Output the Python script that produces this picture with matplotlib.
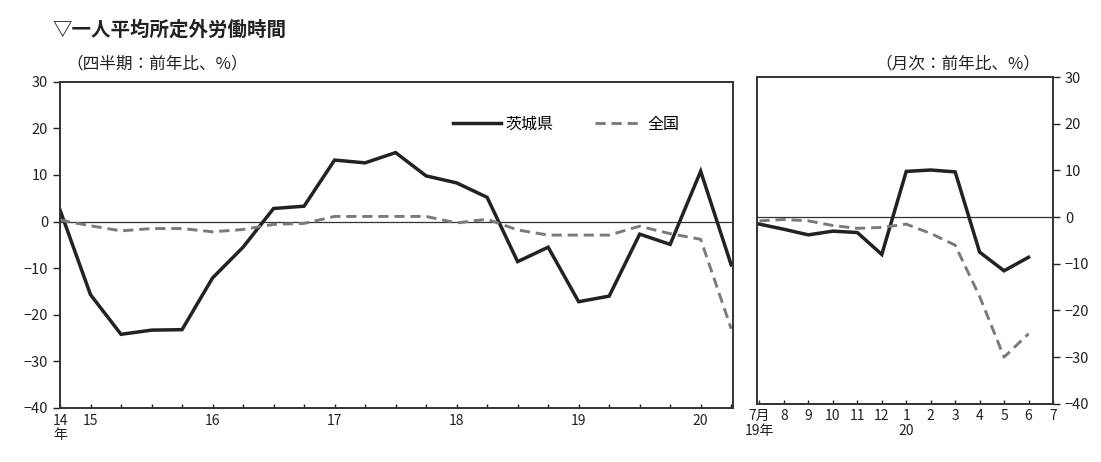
import matplotlib.pyplot as plt

plt.rcParams['font.family'] = ['Noto Sans CJK JP', 'DejaVu Sans']

# 四半期（2014年10-12月期〜2020年4-6月期）前年比、%
ibaraki_q = [2.5, -15.7, -24.2, -23.3, -23.2, -12.1, -5.5, 2.8, 3.3, 13.2, 12.6, 14.8,
             9.8, 8.3, 5.2, -8.6, -5.5, -17.2, -16.0, -2.7, -4.9, 10.8, -9.3]
national_q = [0.3, -0.9, -2.0, -1.5, -1.5, -2.2, -1.7, -0.6, -0.4, 1.1, 1.1, 1.1,
              1.1, -0.3, 0.5, -1.8, -2.9, -2.9, -2.9, -1.0, -2.6, -3.8, -23.0]
q_tick_pos = [0, 1, 5, 9, 13, 17, 21]
q_tick_labels = ['14\n年', '15', '16', '17', '18', '19', '20']

# 月次（2019年7月〜2020年6月）前年比、%
ibaraki_m = [-1.5, -2.6, -3.8, -3.0, -3.3, -8.0, 9.8, 10.1, 9.7, -7.5, -11.5, -8.6]
national_m = [-0.8, -0.5, -0.8, -1.8, -2.4, -2.2, -1.5, -3.5, -6.0, -17.0, -30.0, -25.0]
m_tick_labels = ['7月\n19年', '8', '9', '10', '11', '12', '1\n20', '2', '3', '4', '5', '6', '7']

yticks = [30, 20, 10, 0, -10, -20, -30, -40]

SOLID = dict(color='#222222', lw=2.5, solid_joinstyle='miter')
DASH = dict(color='#7a7a7a', lw=2.1, ls=(0, (3.5, 2)))

fig = plt.figure(figsize=(11.01, 4.62), dpi=100)
ax1 = fig.add_axes([0.0545, 0.117, 0.611, 0.706])
ax2 = fig.add_axes([0.6876, 0.126, 0.2688, 0.707])

# 四半期パネル
xq = range(len(ibaraki_q))
ax1.plot(xq, ibaraki_q, label='茨城県', **SOLID)
ax1.plot(xq, national_q, label='全国', **DASH)
ax1.axhline(0, color='#333333', lw=0.9, zorder=0)
ax1.set_xlim(0, len(ibaraki_q) - 1 + 0.05)
ax1.set_xticks(q_tick_pos)
ax1.set_xticklabels(q_tick_labels, va='top', linespacing=1.05)
ax1.set_xticks(list(xq), minor=True)
ax1.legend(ncol=2, frameon=False, loc='upper right', bbox_to_anchor=(0.921, 0.895),
           borderaxespad=0, borderpad=0, handlelength=3.0, handletextpad=0.3,
           columnspacing=2.6, fontsize=11.5)

# 月次パネル
xm = range(len(ibaraki_m))
ax2.plot(xm, ibaraki_m, **SOLID)
ax2.plot(xm, national_m, **DASH)
ax2.axhline(0, color='#333333', lw=0.9, zorder=0)
ax2.set_xlim(-0.1, 12)
ax2.set_xticks(range(len(m_tick_labels)))
ax2.set_xticklabels(m_tick_labels, va='top', linespacing=1.05)
ax2.yaxis.tick_right()

for ax in (ax1, ax2):
    ax.set_ylim(-40, 30)
    ax.set_yticks(yticks)
    ax.tick_params(axis='y', direction='out', length=5, width=1, labelsize=10.5, colors='#222222')
    ax.tick_params(axis='x', which='both', direction='in', length=3, width=1,
                   labelsize=10, colors='#222222', pad=4)
    for s in ax.spines.values():
        s.set_linewidth(1.4)
        s.set_color('#333333')

fig.text(0.048, 0.922, '▽一人平均所定外労働時間', fontsize=14, fontweight='bold', color='#222222')
fig.text(0.06, 0.852, '（四半期：前年比、%）', fontsize=12, color='#222222')
fig.text(0.945, 0.852, '（月次：前年比、%）', fontsize=12, color='#222222', ha='right')

fig.savefig('out.png', dpi=100)
